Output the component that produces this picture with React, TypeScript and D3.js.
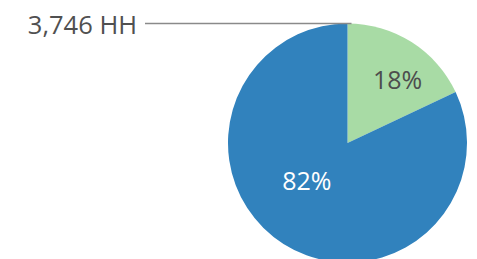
import React from "react";
import * as d3 from "d3";

const categories = ["Other", "Share"];
const values = [18, 82];
const sliceLabels = ["18%", "82%"];
const calloutLabel = "3,746 HH";
const colors = ["#a8dba5", "#3182bd"];
const labelColors = ["#4d4d4d", "#ffffff"];

const W = 477;
const H = 259;

export default function App() {
  const cx = 347.5;
  const cy = 143;
  const r = 119.5;
  const pie = d3.pie<number>().sort(null).value((d) => d);
  const arcs = pie(values);
  const arc = d3.arc<d3.PieArcDatum<number>>().innerRadius(0).outerRadius(r);
  // label placement: radius fraction and angle tweak per slice
  const labelR = [0.67 * r, 0.47 * r];
  const angleShift = [0.11, 0.245];
  return (
    <svg
      width={W}
      height={H}
      style={{ position: "absolute", left: 0, top: 0 }}
      fontFamily="'Open Sans', sans-serif"
    >
      <g transform={`translate(${cx},${cy})`}>
        {arcs.map((a, i) => (
          <path key={categories[i]} d={arc(a) || ""} fill={colors[i]} />
        ))}
        {arcs.map((a, i) => {
          const ang = (a.startAngle + a.endAngle) / 2 + angleShift[i];
          const x = Math.sin(ang) * labelR[i];
          const y = -Math.cos(ang) * labelR[i];
          return (
            <text
              key={"l" + i}
              x={x}
              y={y - 1.5}
              textAnchor="middle"
              dominantBaseline="central"
              fontSize={25}
              fill={labelColors[i]}
            >
              {sliceLabels[i]}
            </text>
          );
        })}
      </g>
      <line
        x1={145}
        x2={cx + 4}
        y1={cy - r}
        y2={cy - r}
        stroke="#8a8a8a"
        strokeWidth={1.5}
      />
      <text x={137} y={34} textAnchor="end" fontSize={25.5} fill="#505050">
        {calloutLabel}
      </text>
    </svg>
  );
}
